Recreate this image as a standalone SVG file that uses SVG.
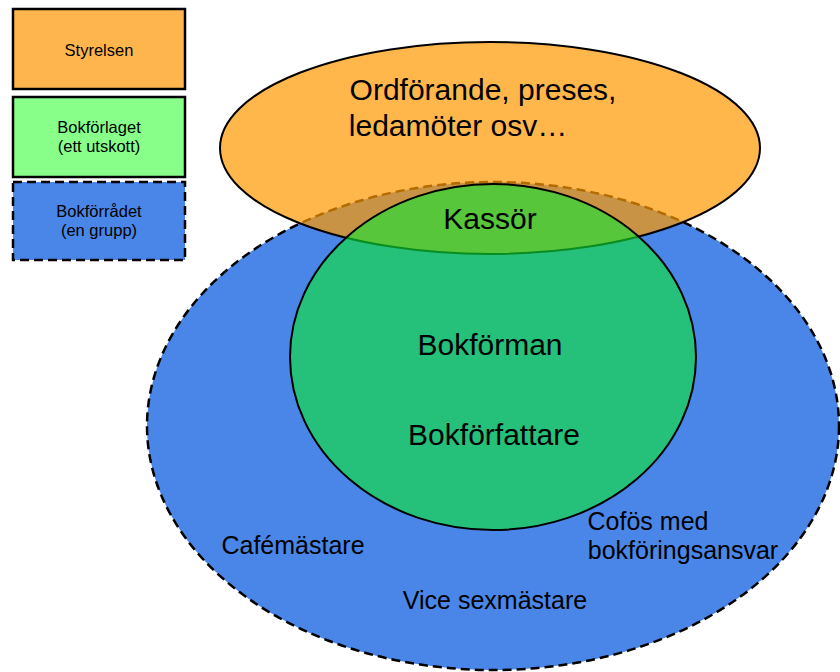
<svg xmlns="http://www.w3.org/2000/svg" width="840" height="672" viewBox="0 0 840 672">
<style>
text{font-family:"Liberation Sans",Arial,sans-serif;fill:#000;text-anchor:middle}
.lg{font-size:16.5px}
.big{font-size:30px}
.mid{font-size:25px}
.box{stroke:#000;stroke-width:2.5}
.dash{stroke-dasharray:9 5}
</style>
<rect width="840" height="672" fill="#fff"/>
<g id="legend-styrelsen">
<rect class="box" x="13" y="9" width="172" height="80" fill="#ffb54d"/>
<text class="lg" x="99" y="56">Styrelsen</text>
</g>
<g id="legend-bokforlaget">
<rect class="box" x="13" y="97" width="172" height="80" fill="#88ff88"/>
<text class="lg" x="99" y="133">Bokförlaget</text>
<text class="lg" x="99" y="152">(ett utskott)</text>
</g>
<g id="legend-bokforradet">
<rect class="box dash" x="13" y="182" width="172" height="78" fill="#4a86e8"/>
<text class="lg" x="99" y="217">Bokförrådet</text>
<text class="lg" x="99" y="236">(en grupp)</text>
</g>
<g id="bokforradet">
<ellipse class="dash" cx="493" cy="426" rx="346" ry="244" fill="#4a86e8" stroke="#000" stroke-width="2.5"/>
</g>
<g id="styrelsen">
<ellipse cx="490" cy="148" rx="270" ry="106" fill="#ff9900" fill-opacity="0.7" stroke="#000" stroke-width="2"/>
</g>
<g id="bokforlaget">
<ellipse cx="493" cy="357" rx="203" ry="173" fill="#0fe634" fill-opacity="0.61" stroke="#000" stroke-width="2"/>
</g>
<g id="labels">
<text class="big" x="483" y="100">Ordförande, preses,</text>
<text class="big" x="458" y="136">ledamöter osv…</text>
<text class="big" x="490" y="229">Kassör</text>
<text class="big" x="490" y="355">Bokförman</text>
<text class="big" x="494" y="445">Bokförfattare</text>
<text class="mid" x="293" y="554">Cafémästare</text>
<text class="mid" x="495" y="609">Vice sexmästare</text>
<text class="mid" x="648" y="530">Cofös med</text>
<text class="mid" x="683" y="559">bokföringsansvar</text>
</g>
<g id="connectors"></g>
</svg>
